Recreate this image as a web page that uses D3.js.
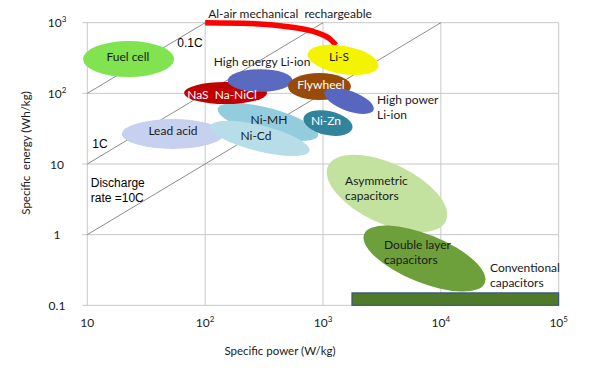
<!DOCTYPE html>
<html><head><meta charset="utf-8">
<script src="https://cdn.jsdelivr.net/npm/d3@7"></script>
<style>body{margin:0;background:#fff}svg{display:block}text{white-space:pre}</style>
</head><body><svg id="c" width="589" height="368"></svg>
<script>
// ---- data ----
const xTicks = [10, 1e2, 1e3, 1e4, 1e5];
const xTickLabels = [["10",""],["10","2"],["10","3"],["10","4"],["10","5"]];
const yTicks = [0.1, 1, 10, 1e2, 1e3];
const yTickLabels = [["0.1",""],["1",""],["10",""],["10","2"],["10","3"]];
// discharge-rate lines: energy = power * hours
const rateHours = [10, 1, 0.1];
const rateNames = ["0.1C", "1C", "Discharge rate =10C"];
// ellipses: name, centre power (W/kg), centre energy (Wh/kg), half-width (decades P), half-height (decades E), tilt (deg)
const techNames  = ["Lead acid","Ni-MH","Ni-Cd","Fuel cell","NaS Na-NiCl","High energy Li-ion","Flywheel","Li-S","High power Li-ion","Ni-Zn","Asymmetric capacitors","Double layer capacitors"];
const techPower  = [53.3, 341, 292, 22.4, 149, 293, 933, 1479, 1663, 1102, 3490, 7260];
const techEnergy = [26.6, 39.3, 23, 306, 101, 152, 125, 297, 78, 38, 3.82, 0.459];
const techHalfP  = [0.433, 0.441, 0.433, 0.386, 0.352, 0.276, 0.267, 0.305, 0.221, 0.212, 0.552, 0.552];
const techHalfE  = [0.212, 0.198, 0.184, 0.255, 0.156, 0.159, 0.191, 0.198, 0.142, 0.170, 0.425, 0.340];
const techTilt   = [0, 15, 14, 0, 0, 0, 0, 10, 20, 12, 25, 22];
const techColors = ["#c6d1ef","#93cddd","#b7dee8","#80e34f","#c00000","#5a6abf","#984b08","#f4f400","#5766bf","#31849b","#c3e2a0","#6da03a"];
// conventional capacitors band
const convPower = [1760, 1e5];
const convEnergy = [0.1, 0.15];
// Al-air mechanical rechargeable trace
const alairPower  = [100, 240, 525, 855, 1146, 1289];
const alairEnergy = [1000, 975, 869, 738, 588, 483];
// labels: text lines, anchor power, anchor energy, align, colour
const labelText = [["Fuel cell"],["0.1C"],["High energy Li-ion"],["NaS  Na-NiCl"],["Li-S"],["Flywheel"],["High power","Li-ion"],["Ni-Zn"],["Ni-MH"],["Ni-Cd"],["Lead acid"],["1C"],["Discharge","rate =10C"],["Asymmetric","capacitors"],["Double layer","capacitors"],["Conventional","capacitors"],["Al-air mechanical  rechargeable"]];
const labelP = [22.1, 74.3, 304, 139, 1367, 962, 2873, 1060, 348, 270, 53.3, 12.8, 10.7, 1538, 3296, 26120, 106];
const labelE = [327, 516, 278, 94.8, 327, 131, 80.5, 40.6, 42, 24.9, 29.3, 19.2, 5.38, 5.74, 0.713, 0.337, 1327];
const labelAlign = ["middle","middle","middle","middle","middle","middle","start","middle","middle","middle","middle","middle","start","start","start","start","start"];
const labelColor = ["#1a1a1a","#000","#1a1a1a","#fff","#1a1a1a","#fff","#1a1a1a","#fff","#1a1a1a","#1a1a1a","#1a1a1a","#000","#000","#1a1a1a","#1a1a1a","#1a1a1a","#1a1a1a"];
const labelArial = [false,true,false,false,false,false,false,false,false,false,false,true,true,false,false,false,false];

// ---- chart ----
const svg = d3.select("#c");
const x = d3.scaleLog().domain([10, 1e5]).range([87.3, 558.7]);
const y = d3.scaleLog().domain([0.1, 1000]).range([305.3, 22.7]);
const pxPerDecX = (x(100) - x(10));
const pxPerDecY = (y(10) - y(100));
const grid = "#c8c8c8";
const font = "Lato, 'Open Sans', sans-serif";

// grid
svg.append("g").selectAll("line").data(xTicks).join("line")
  .attr("x1", d => x(d)).attr("x2", d => x(d))
  .attr("y1", y(1000)).attr("y2", y(0.1))
  .attr("stroke", grid).attr("stroke-width", 1);
svg.append("g").selectAll("line").data(yTicks).join("line")
  .attr("x1", x(10) - 5).attr("x2", x(1e5))
  .attr("y1", d => y(d)).attr("y2", d => y(d))
  .attr("stroke", grid).attr("stroke-width", 1);

// discharge-rate diagonals (clipped to plot area)
rateHours.forEach(h => {
  const p0 = Math.max(10, 0.1 / h), p1 = Math.min(1e5, 1000 / h);
  svg.append("line")
    .attr("x1", x(p0)).attr("y1", y(p0 * h))
    .attr("x2", x(p1)).attr("y2", y(p1 * h))
    .attr("stroke", "#6f6f6f").attr("stroke-width", 0.8);
});

// Al-air trace
svg.append("path")
  .datum(alairPower.map((p, i) => [x(p), y(alairEnergy[i])]))
  .attr("d", d3.line().curve(d3.curveMonotoneX))
  .attr("fill", "none").attr("stroke", "#ff0000").attr("stroke-width", 5.5);

// ellipses
svg.append("g").selectAll("ellipse").data(techNames).join("ellipse")
  .attr("cx", 0).attr("cy", 0)
  .attr("rx", (d, i) => techHalfP[i] * pxPerDecX)
  .attr("ry", (d, i) => techHalfE[i] * pxPerDecY)
  .attr("transform", (d, i) => `translate(${x(techPower[i])},${y(techEnergy[i])}) rotate(${techTilt[i]})`)
  .attr("fill", (d, i) => techColors[i]);

// conventional capacitors
svg.append("rect")
  .attr("x", x(convPower[0])).attr("y", y(convEnergy[1]))
  .attr("width", x(convPower[1]) - x(convPower[0]))
  .attr("height", y(convEnergy[0]) - y(convEnergy[1]))
  .attr("fill", "#4e7a2a").attr("stroke", "#2e4a8a").attr("stroke-width", 1);

// labels
labelText.forEach((lines, i) => {
  const t = svg.append("text")
    .attr("x", x(labelP[i])).attr("y", y(labelE[i]))
    .attr("text-anchor", labelAlign[i])
    .attr("fill", labelColor[i])
    .attr("font-family", labelArial[i] ? "'Liberation Sans', Arial, sans-serif" : font)
    .attr("font-size", 12);
  lines.forEach((s, k) => {
    t.append("tspan").attr("x", x(labelP[i])).attr("dy", k === 0 ? "0.35em" : 15).text(s);
  });
});

// tick labels
function tickLabel(sel, lab) {
  sel.append("tspan").text(lab[0]);
  if (lab[1]) sel.append("tspan").attr("font-size", 8).attr("dy", -5).text(lab[1]);
}
xTicks.forEach((d, i) => {
  const t = svg.append("text").attr("x", x(d)).attr("y", 327)
    .attr("text-anchor", "middle").attr("font-family", font).attr("font-size", 12).attr("fill", "#1a1a1a");
  tickLabel(t, xTickLabels[i]);
});
yTicks.forEach((d, i) => {
  const t = svg.append("text").attr("x", 57).attr("y", y(d) + 4.5)
    .attr("text-anchor", "middle").attr("font-family", font).attr("font-size", 12).attr("fill", "#1a1a1a");
  tickLabel(t, yTickLabels[i]);
});

// axis titles
svg.append("text").attr("x", 280).attr("y", 355).attr("text-anchor", "middle")
  .attr("font-family", font).attr("font-size", 11.5).attr("fill", "#1a1a1a")
  .text("Specific power (W/kg)");
svg.append("text").attr("transform", "translate(30,153) rotate(-90)").attr("text-anchor", "middle")
  .attr("font-family", font).attr("font-size", 11.5).attr("fill", "#1a1a1a")
  .text("Specific  energy (Wh/kg)");
</script></body></html>
